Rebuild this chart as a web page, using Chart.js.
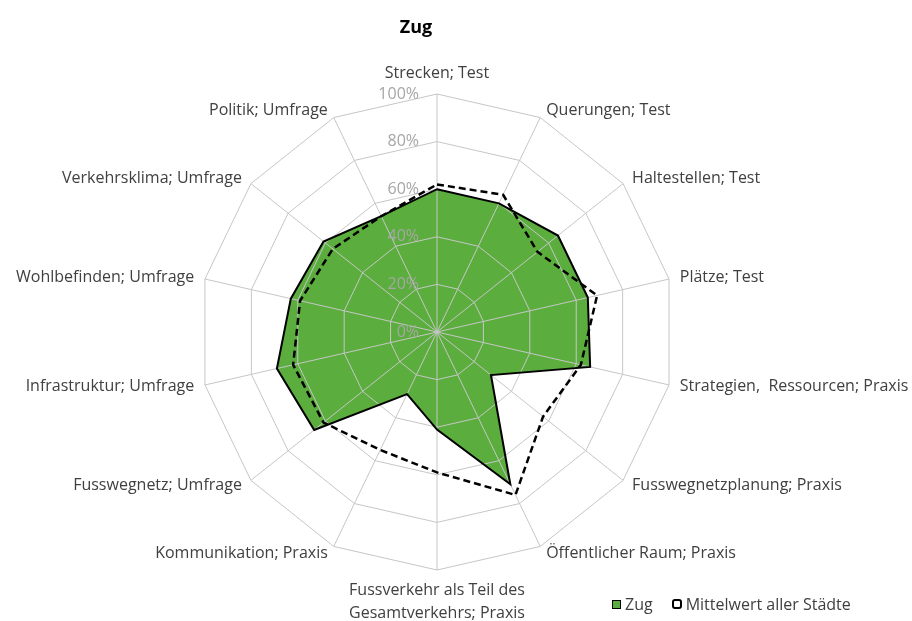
<!DOCTYPE html>
<html>
<head>
<meta charset="utf-8">
<script src="https://cdn.jsdelivr.net/npm/chart.js@4.4.0/dist/chart.umd.min.js"></script>
<style>
    html, body { margin: 0; padding: 0; background: #ffffff; }
    #wrap { position: relative; width: 912px; height: 621px; }
    #legend {
        position: absolute; left: 612px; top: 593px;
        font: 16px "Open Sans", sans-serif; color: #404040;
        display: flex; align-items: center; white-space: nowrap;
    }
    .box { display: inline-block; box-sizing: border-box; width: 9px; height: 9px; margin-right: 4px; }
    .zug { background: #5bae3e; border: 1px solid #000; }
    .mean { background: #fff; border: 2.5px solid #000; border-radius: 3px; width: 10px; height: 10px; margin-left: 19px; }
</style>
</head>
<body>
<div id="wrap">
    <canvas id="radarChart" width="912" height="621"></canvas>
    <div id="legend">
        <span class="box zug"></span><span>Zug</span>
        <span class="box mean"></span><span>Mittelwert aller Städte</span>
    </div>
</div>
<script>
// Kategorien im Uhrzeigersinn, oben beginnend
const categories = [
    'Strecken; Test',
    'Querungen; Test',
    'Haltestellen; Test',
    'Plätze; Test',
    'Strategien,  Ressourcen; Praxis',
    'Fusswegnetzplanung; Praxis',
    'Öffentlicher Raum; Praxis',
    ['Fussverkehr als Teil des', 'Gesamtverkehrs; Praxis'],
    'Kommunikation; Praxis',
    'Fusswegnetz; Umfrage',
    'Infrastruktur; Umfrage',
    'Wohlbefinden; Umfrage',
    'Verkehrsklima; Umfrage',
    'Politik; Umfrage'
];

const zugValues = [60, 60, 65, 65, 66, 29, 71, 41, 29, 66, 69, 63, 61, 54];
const meanValues = [62, 64, 54, 69, 62, 57, 76, 59, 55, 61, 62, 59, 56, 54];

const tickValues = [0, 20, 40, 60, 80, 100];
const tickLabels = ['0%', '20%', '40%', '60%', '80%', '100%'];

const chartTitle = 'Zug';
const labelFont = '16px "Open Sans", sans-serif';

// Gitterlinien über der grünen Fläche nochmals zeichnen, Texte zuletzt
const radarText = {
    id: 'radarText',
    afterDatasetDraw(chart, args) {
        if (args.index !== 0) return;
        const ctx = chart.ctx;
        const pts = chart.getDatasetMeta(0).data;
        ctx.save();
        ctx.beginPath();
        pts.forEach((p, i) => i ? ctx.lineTo(p.x, p.y) : ctx.moveTo(p.x, p.y));
        ctx.closePath();
        ctx.clip();
        chart.scales.r.drawGrid();
        ctx.restore();
    },
    afterDatasetsDraw(chart) {
        const ctx = chart.ctx;
        const r = chart.scales.r;
        ctx.save();

        // Titel (in Excel etwas links von der Mitte)
        ctx.font = 'bold 18px "Open Sans", sans-serif';
        ctx.fillStyle = '#000000';
        ctx.textAlign = 'center';
        ctx.textBaseline = 'middle';
        ctx.fillText(chartTitle, 416, 28);

        // Achsenbeschriftung (Prozent)
        ctx.font = labelFont;
        ctx.fillStyle = '#a6a6a6';
        ctx.textAlign = 'right';
        tickValues.forEach((v, i) => {
            const d = r.getDistanceFromCenterForValue(v);
            ctx.fillText(tickLabels[i], r.xCenter - 18, r.yCenter - d);
        });

        // Kategorien
        ctx.fillStyle = '#404040';
        categories.forEach((label, i) => {
            const a = r.getIndexAngle(i);
            const p = r.getPointPosition(i, r.drawingArea);
            const s = Math.sin(a), c = Math.cos(a);
            const lines = Array.isArray(label) ? label : [label];
            if (Math.abs(s) < 0.01) {
                ctx.textAlign = 'center';
                if (c > 0) {
                    ctx.fillText(lines[0], p.x, p.y - 21);
                } else {
                    lines.forEach((t, k) => ctx.fillText(t, p.x, p.y + 20 + k * 23));
                }
            } else {
                ctx.textAlign = s > 0 ? 'left' : 'right';
                const dx = (2 + 9 * Math.abs(s)) * Math.sign(s);
                ctx.fillText(lines[0], p.x + dx, p.y - c * 8);
            }
        });
        ctx.restore();
    }
};

const ctx = document.getElementById('radarChart').getContext('2d');
new Chart(ctx, {
    type: 'radar',
    data: {
        labels: categories,
        datasets: [{
            label: 'Zug',
            data: zugValues,
            fill: true,
            backgroundColor: '#5bae3e',
            borderWidth: 0,
            pointRadius: 0,
            order: 3
        }, {
            label: 'Zug Linie',
            data: zugValues,
            fill: false,
            borderColor: '#000000',
            borderWidth: 2,
            pointRadius: 0,
            order: 2
        }, {
            label: 'Mittelwert aller Städte',
            data: meanValues,
            fill: false,
            borderColor: '#000000',
            borderWidth: 2.5,
            borderDash: [7, 4],
            pointRadius: 0,
            order: 1
        }]
    },
    options: {
        responsive: false,
        animation: false,
        devicePixelRatio: 1,
        layout: {
            padding: { left: 199, right: 237, top: 94, bottom: 51 }
        },
        plugins: {
            legend: { display: false },
            tooltip: { enabled: false },
            title: { display: false }
        },
        scales: {
            r: {
                min: 0,
                max: 100,
                ticks: { stepSize: 20, display: false },
                grid: { color: '#c6c6c6', lineWidth: 1 },
                angleLines: { color: '#c6c6c6', lineWidth: 1 },
                pointLabels: { display: false }
            }
        }
    },
    plugins: [radarText]
});
</script>
</body>
</html>
